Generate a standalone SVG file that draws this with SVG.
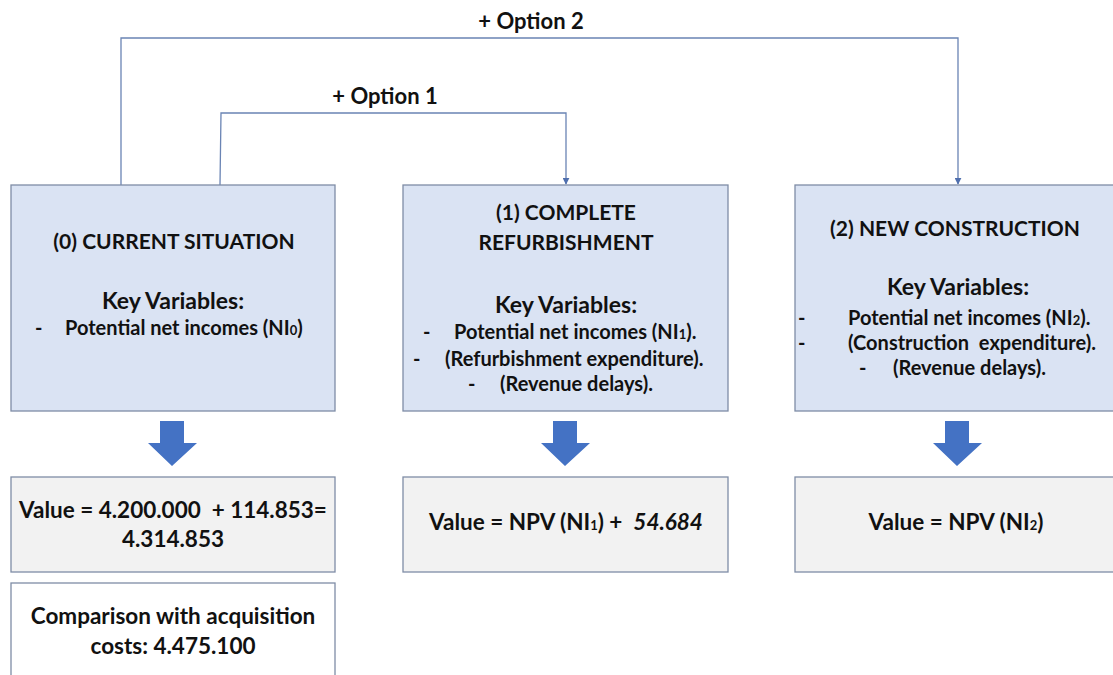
<svg xmlns="http://www.w3.org/2000/svg" width="1113" height="675" viewBox="0 0 1113 675">
  <style>
    text { font-family: Lato, "Liberation Sans", sans-serif; font-weight: bold; fill: #111; }
    .c { text-anchor: middle; }
    .title { font-size: 21px; }
    .kv { font-size: 23px; }
    .item { font-size: 20px; }
    .val { font-size: 22.5px; }
    .opt { font-size: 22px; }
    .scenario { fill: #DAE3F3; stroke: #7F8DA6; stroke-width: 1.3; }
    .result { fill: #F2F2F2; stroke: #7F8DA6; stroke-width: 1.3; }
    .note { fill: #FFFFFF; stroke: #7F8DA6; stroke-width: 1.3; }
    .flow { fill: #4472C4; }
    .link { fill: none; stroke: #6A84B4; stroke-width: 1.3; }
    .sub { font-size: 13px; }
  </style>
  <defs>
    <marker id="tip" viewBox="0 0 10 10" refX="9" refY="5" markerWidth="7" markerHeight="7" markerUnits="userSpaceOnUse" orient="auto">
      <path d="M0,0 L10,5 L0,10 z" fill="#4F6FAE"/>
    </marker>
  </defs>

  <rect width="1113" height="675" fill="#FFFFFF"/>

  <!-- option connectors -->
  <g id="connectors">
    <path class="link" d="M121,185 V38 H958 V184" marker-end="url(#tip)"/>
    <path class="link" d="M220,185 L221,113 H566 V184" marker-end="url(#tip)"/>
    <text class="opt c" x="531" y="29">+ Option 2</text>
    <text class="opt c" x="385" y="104">+ Option 1</text>
  </g>

  <!-- scenario 0 -->
  <g id="current">
    <rect class="scenario" x="11" y="185" width="324" height="226"/>
    <text class="title c" x="174" y="249">(0) CURRENT SITUATION</text>
    <text class="kv c" x="173" y="309">Key Variables:</text>
    <text class="item" x="35" y="335">-</text>
    <text class="item" x="65" y="335">Potential net incomes (NI<tspan class="sub">0</tspan>)</text>
  </g>

  <!-- scenario 1 -->
  <g id="refurbishment">
    <rect class="scenario" x="403" y="185" width="325" height="226"/>
    <text class="title c" x="566" y="220">(1) COMPLETE</text>
    <text class="title c" x="566" y="250">REFURBISHMENT</text>
    <text class="kv c" x="566" y="313">Key Variables:</text>
    <text class="item" x="423" y="339">-</text>
    <text class="item" x="454" y="339">Potential net incomes (NI<tspan class="sub">1</tspan>).</text>
    <text class="item" x="413" y="366">-</text>
    <text class="item" x="445" y="366">(Refurbishment expenditure).</text>
    <text class="item" x="468" y="391">-</text>
    <text class="item" x="500" y="391">(Revenue delays).</text>
  </g>

  <!-- scenario 2 -->
  <g id="construction">
    <rect class="scenario" x="795" y="185" width="330" height="226"/>
    <text class="title c" x="955" y="236">(2) NEW CONSTRUCTION</text>
    <text class="kv c" x="958" y="295">Key Variables:</text>
    <text class="item" x="798" y="325">-</text>
    <text class="item" x="848" y="325">Potential net incomes (NI<tspan class="sub">2</tspan>).</text>
    <text class="item" x="798" y="350">-</text>
    <text class="item" x="848" y="350">(Construction&#160; expenditure).</text>
    <text class="item" x="859" y="375">-</text>
    <text class="item" x="893" y="375">(Revenue delays).</text>
  </g>

  <!-- downward flow arrows -->
  <g id="flow-arrows">
    <path class="flow" d="M160,421 H184 V443 H197 L172,466 L148,443 H160 Z"/>
    <path class="flow" d="M553,421 H577 V443 H590 L565,466 L541,443 H553 Z"/>
    <path class="flow" d="M945,421 H969 V443 H982 L957,466 L933,443 H945 Z"/>
  </g>

  <!-- valuation results -->
  <g id="value-current">
    <rect class="result" x="11" y="477" width="324" height="95"/>
    <text class="val c" x="173" y="518">Value = 4.200.000&#160; + 114.853=</text>
    <text class="val c" x="173" y="547">4.314.853</text>
  </g>
  <g id="value-refurbishment">
    <rect class="result" x="403" y="477" width="325" height="95"/>
    <text class="val c" x="566" y="530">Value = NPV (NI<tspan class="sub">1</tspan>) +&#160; <tspan font-style="italic">54.684</tspan></text>
  </g>
  <g id="value-construction">
    <rect class="result" x="795" y="477" width="330" height="95"/>
    <text class="val c" x="956" y="530">Value = NPV (NI<tspan class="sub">2</tspan>)</text>
  </g>

  <!-- acquisition comparison -->
  <g id="comparison">
    <rect class="note" x="11" y="583" width="324" height="110"/>
    <text class="val c" x="173" y="624">Comparison with acquisition</text>
    <text class="val c" x="173" y="654">costs: 4.475.100</text>
  </g>
</svg>
